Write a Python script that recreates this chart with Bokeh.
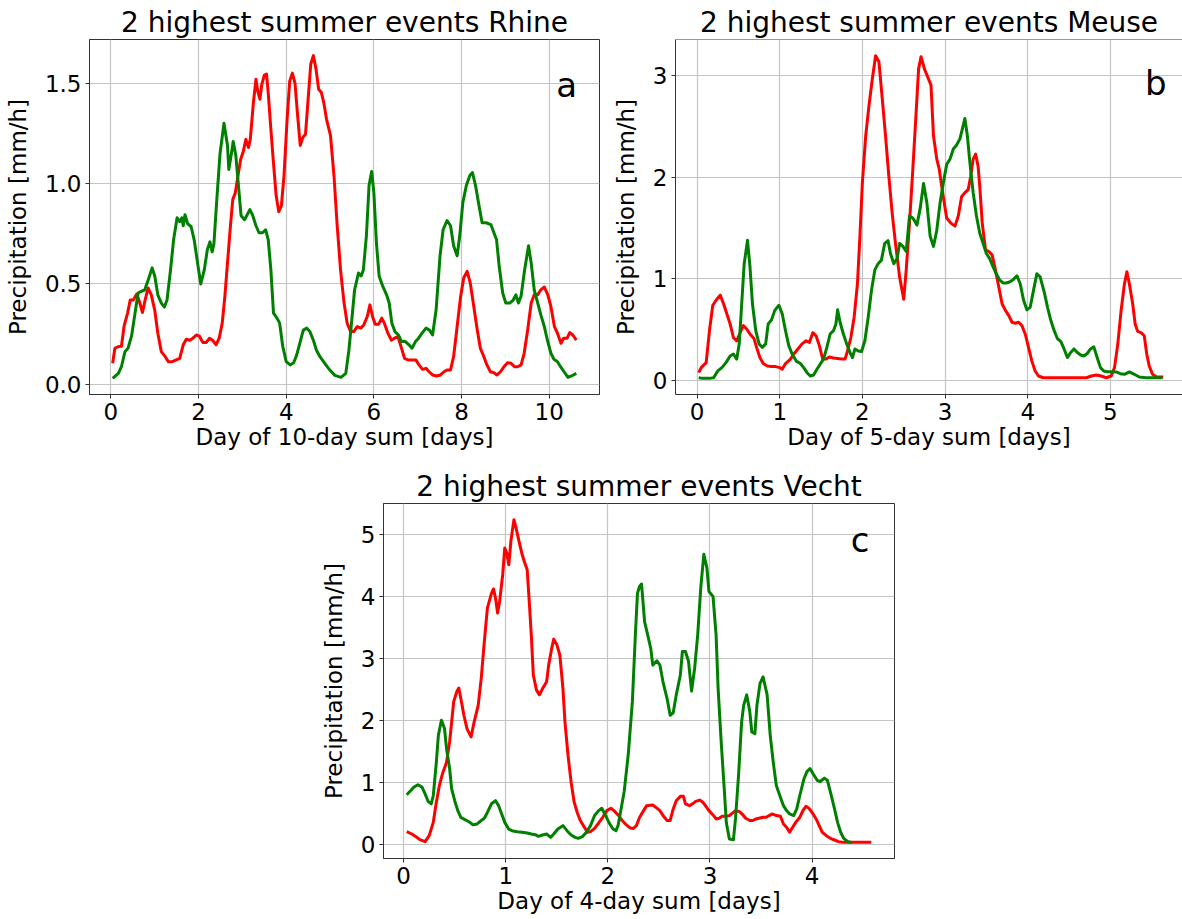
from bokeh.plotting import figure
from bokeh.layouts import column, row
from bokeh.models import Range1d, FixedTicker, PrintfTickFormatter, Label, Span
from bokeh.embed import file_html
from bokeh.resources import INLINE

# ---------------------------------------------------------------------------
# Hourly precipitation of the two highest summer events per basin
# (time in days since the start of the multi-day sum, precipitation in mm/h)
# ---------------------------------------------------------------------------

# Rhine, 10-day sum
rhine_green_t = [
    0.04, 0.17, 0.24, 0.32, 0.39, 0.47, 0.54, 0.62, 0.69, 0.77,
    0.85, 0.94, 1.00, 1.07, 1.15, 1.22, 1.28, 1.36, 1.43, 1.51,
    1.57, 1.62, 1.65, 1.69, 1.75, 1.83, 1.90, 1.98, 2.05, 2.13,
    2.20, 2.26, 2.31, 2.35, 2.41, 2.49, 2.58, 2.66, 2.69, 2.75,
    2.79, 2.85, 2.91, 2.97, 3.05, 3.11, 3.17, 3.23, 3.31, 3.38,
    3.46, 3.53, 3.59, 3.65, 3.71, 3.79, 3.85, 3.92, 4.00, 4.09,
    4.17, 4.24, 4.32, 4.39, 4.47, 4.54, 4.62, 4.69, 4.77, 4.88,
    5.00, 5.11, 5.25, 5.36, 5.43, 5.49, 5.56, 5.65, 5.71, 5.76,
    5.83, 5.89, 5.95, 6.00, 6.06, 6.12, 6.20, 6.29, 6.35, 6.41,
    6.48, 6.56, 6.63, 6.72, 6.80, 6.87, 6.95, 7.02, 7.10, 7.19,
    7.27, 7.34, 7.42, 7.51, 7.58, 7.67, 7.75, 7.82, 7.90, 7.96,
    8.03, 8.11, 8.19, 8.25, 8.32, 8.40, 8.47, 8.56, 8.67, 8.74,
    8.80, 8.86, 8.94, 9.01, 9.10, 9.18, 9.24, 9.30, 9.36, 9.44,
    9.53, 9.59, 9.66, 9.74, 9.81, 9.89, 9.96, 10.04, 10.11, 10.19,
    10.26, 10.34, 10.43, 10.51, 10.62,
]
rhine_green_p = [
    0.030, 0.055, 0.088, 0.163, 0.180, 0.240, 0.340, 0.455, 0.463, 0.470,
    0.520, 0.580, 0.540, 0.446, 0.405, 0.385, 0.420, 0.570, 0.720, 0.830,
    0.810, 0.830, 0.790, 0.845, 0.800, 0.785, 0.720, 0.600, 0.500, 0.570,
    0.670, 0.710, 0.660, 0.700, 0.900, 1.150, 1.300, 1.190, 1.070, 1.150,
    1.210, 1.140, 0.990, 0.840, 0.820, 0.845, 0.870, 0.845, 0.790, 0.755,
    0.755, 0.770, 0.720, 0.570, 0.355, 0.330, 0.305, 0.190, 0.113, 0.097,
    0.108, 0.147, 0.213, 0.270, 0.280, 0.263, 0.220, 0.170, 0.138, 0.105,
    0.070, 0.045, 0.035, 0.055, 0.170, 0.305, 0.470, 0.555, 0.540, 0.570,
    0.740, 0.990, 1.060, 0.955, 0.700, 0.540, 0.490, 0.446, 0.405, 0.305,
    0.263, 0.246, 0.213, 0.213, 0.197, 0.180, 0.213, 0.230, 0.255, 0.280,
    0.270, 0.246, 0.370, 0.640, 0.770, 0.816, 0.790, 0.690, 0.640, 0.740,
    0.905, 0.990, 1.040, 1.055, 0.990, 0.890, 0.805, 0.805, 0.796, 0.755,
    0.720, 0.588, 0.455, 0.405, 0.405, 0.420, 0.446, 0.405, 0.440, 0.570,
    0.690, 0.605, 0.470, 0.405, 0.346, 0.288, 0.220, 0.155, 0.125, 0.113,
    0.088, 0.063, 0.035, 0.042, 0.055,
]
rhine_red_t = [
    0.04, 0.09, 0.17, 0.24, 0.30, 0.38, 0.44, 0.51, 0.59, 0.66,
    0.72, 0.78, 0.85, 0.92, 1.00, 1.07, 1.15, 1.24, 1.31, 1.40,
    1.49, 1.57, 1.65, 1.72, 1.80, 1.87, 1.95, 2.02, 2.10, 2.17,
    2.25, 2.32, 2.40, 2.47, 2.54, 2.60, 2.66, 2.72, 2.78, 2.84,
    2.90, 2.96, 3.02, 3.08, 3.14, 3.18, 3.25, 3.31, 3.35, 3.40,
    3.44, 3.50, 3.55, 3.59, 3.65, 3.71, 3.77, 3.83, 3.89, 3.95,
    4.02, 4.08, 4.14, 4.20, 4.26, 4.32, 4.38, 4.44, 4.50, 4.56,
    4.62, 4.68, 4.74, 4.80, 4.86, 4.92, 5.01, 5.09, 5.16, 5.24,
    5.32, 5.39, 5.47, 5.54, 5.62, 5.70, 5.77, 5.85, 5.91, 5.97,
    6.03, 6.11, 6.18, 6.24, 6.32, 6.40, 6.47, 6.55, 6.62, 6.70,
    6.78, 6.87, 6.96, 7.03, 7.11, 7.19, 7.26, 7.34, 7.43, 7.52,
    7.60, 7.67, 7.75, 7.82, 7.90, 7.98, 8.05, 8.13, 8.20, 8.28,
    8.36, 8.43, 8.51, 8.58, 8.66, 8.74, 8.81, 8.89, 8.97, 9.05,
    9.13, 9.21, 9.28, 9.36, 9.43, 9.51, 9.59, 9.66, 9.74, 9.81,
    9.89, 9.97, 10.04, 10.12, 10.19, 10.27, 10.33, 10.41, 10.47, 10.54,
    10.62,
]
rhine_red_p = [
    0.105, 0.180, 0.188, 0.190, 0.290, 0.355, 0.420, 0.420, 0.450, 0.405,
    0.358, 0.420, 0.480, 0.446, 0.370, 0.255, 0.163, 0.138, 0.113, 0.113,
    0.122, 0.130, 0.197, 0.225, 0.220, 0.230, 0.246, 0.240, 0.208, 0.208,
    0.230, 0.220, 0.197, 0.230, 0.305, 0.438, 0.605, 0.770, 0.920, 0.955,
    1.040, 1.120, 1.160, 1.220, 1.180, 1.220, 1.400, 1.520, 1.460, 1.420,
    1.490, 1.540, 1.545, 1.450, 1.270, 1.100, 0.940, 0.860, 0.890, 1.040,
    1.320, 1.510, 1.550, 1.500, 1.340, 1.190, 1.230, 1.245, 1.420, 1.595,
    1.637, 1.570, 1.470, 1.455, 1.400, 1.320, 1.240, 1.040, 0.800, 0.570,
    0.405, 0.305, 0.263, 0.263, 0.288, 0.280, 0.296, 0.338, 0.396, 0.338,
    0.300, 0.300, 0.330, 0.305, 0.255, 0.220, 0.230, 0.238, 0.188, 0.130,
    0.122, 0.122, 0.122, 0.097, 0.075, 0.080, 0.063, 0.047, 0.042, 0.047,
    0.063, 0.072, 0.072, 0.138, 0.288, 0.438, 0.530, 0.563, 0.505, 0.388,
    0.271, 0.180, 0.138, 0.097, 0.063, 0.058, 0.047, 0.063, 0.088, 0.108,
    0.105, 0.088, 0.088, 0.097, 0.155, 0.271, 0.405, 0.446, 0.446, 0.471,
    0.485, 0.446, 0.388, 0.288, 0.255, 0.205, 0.230, 0.230, 0.258, 0.246,
    0.220,
]

# Meuse, 5-day sum
meuse_green_t = [
    0.02, 0.07, 0.15, 0.20, 0.25, 0.30, 0.35, 0.40, 0.44, 0.48,
    0.51, 0.54, 0.57, 0.61, 0.64, 0.67, 0.71, 0.75, 0.79, 0.83,
    0.86, 0.90, 0.94, 0.99, 1.03, 1.07, 1.11, 1.15, 1.20, 1.25,
    1.29, 1.33, 1.37, 1.41, 1.45, 1.49, 1.53, 1.57, 1.61, 1.65,
    1.68, 1.70, 1.73, 1.77, 1.81, 1.85, 1.88, 1.91, 1.95, 1.99,
    2.03, 2.07, 2.11, 2.15, 2.19, 2.23, 2.27, 2.31, 2.34, 2.38,
    2.42, 2.45, 2.49, 2.53, 2.57, 2.61, 2.66, 2.70, 2.74, 2.78,
    2.82, 2.86, 2.90, 2.94, 2.98, 3.02, 3.06, 3.10, 3.14, 3.18,
    3.21, 3.24, 3.27, 3.30, 3.34, 3.38, 3.42, 3.46, 3.50, 3.54,
    3.58, 3.62, 3.66, 3.70, 3.74, 3.78, 3.82, 3.87, 3.91, 3.95,
    3.99, 4.03, 4.07, 4.11, 4.15, 4.20, 4.24, 4.28, 4.32, 4.36,
    4.40, 4.44, 4.48, 4.52, 4.56, 4.60, 4.64, 4.68, 4.72, 4.76,
    4.80, 4.84, 4.88, 4.92, 4.96, 5.01, 5.07, 5.12, 5.17, 5.23,
    5.29, 5.35, 5.43, 5.51, 5.63,
]
meuse_green_p = [
    0.026, 0.020, 0.020, 0.026, 0.093, 0.126, 0.175, 0.240, 0.260, 0.210,
    0.360, 0.755, 1.150, 1.380, 1.120, 0.755, 0.490, 0.360, 0.325, 0.360,
    0.556, 0.596, 0.690, 0.740, 0.656, 0.490, 0.340, 0.260, 0.190, 0.166,
    0.126, 0.076, 0.043, 0.053, 0.110, 0.160, 0.210, 0.325, 0.457, 0.490,
    0.556, 0.695, 0.573, 0.457, 0.360, 0.275, 0.225, 0.310, 0.290, 0.285,
    0.390, 0.620, 0.887, 1.086, 1.150, 1.185, 1.350, 1.377, 1.250, 1.150,
    1.200, 1.350, 1.320, 1.270, 1.620, 1.600, 1.530, 1.700, 1.940, 1.750,
    1.420, 1.320, 1.480, 1.750, 1.950, 2.130, 2.180, 2.280, 2.320, 2.380,
    2.480, 2.580, 2.410, 2.150, 1.850, 1.620, 1.450, 1.350, 1.250, 1.200,
    1.120, 1.050, 0.990, 0.960, 0.960, 0.970, 0.990, 1.030, 0.950, 0.790,
    0.695, 0.720, 0.887, 1.050, 1.020, 0.870, 0.720, 0.590, 0.490, 0.410,
    0.384, 0.310, 0.225, 0.275, 0.310, 0.275, 0.250, 0.240, 0.265, 0.310,
    0.330, 0.225, 0.126, 0.093, 0.086, 0.086, 0.083, 0.066, 0.060, 0.083,
    0.060, 0.033, 0.026, 0.026, 0.026,
]
meuse_red_t = [
    0.02, 0.05, 0.11, 0.15, 0.19, 0.23, 0.28, 0.32, 0.36, 0.40,
    0.44, 0.48, 0.52, 0.56, 0.60, 0.64, 0.69, 0.72, 0.76, 0.80,
    0.85, 0.90, 0.95, 1.00, 1.03, 1.07, 1.13, 1.17, 1.22, 1.27,
    1.32, 1.36, 1.40, 1.44, 1.48, 1.52, 1.56, 1.60, 1.65, 1.70,
    1.75, 1.79, 1.82, 1.86, 1.90, 1.94, 1.97, 2.00, 2.04, 2.08,
    2.12, 2.16, 2.20, 2.24, 2.28, 2.32, 2.36, 2.40, 2.45, 2.48,
    2.50, 2.53, 2.57, 2.61, 2.65, 2.68, 2.71, 2.75, 2.79, 2.83,
    2.86, 2.90, 2.93, 2.96, 2.99, 3.02, 3.07, 3.12, 3.16, 3.20,
    3.24, 3.28, 3.31, 3.34, 3.37, 3.40, 3.42, 3.45, 3.49, 3.53,
    3.57, 3.61, 3.65, 3.69, 3.73, 3.77, 3.81, 3.85, 3.89, 3.93,
    3.97, 4.01, 4.05, 4.09, 4.13, 4.19, 4.40, 4.60, 4.71, 4.77,
    4.83, 4.89, 4.95, 5.01, 5.05, 5.09, 5.13, 5.17, 5.20, 5.23,
    5.27, 5.30, 5.33, 5.37, 5.41, 5.44, 5.47, 5.51, 5.56, 5.64,
]
meuse_red_p = [
    0.076, 0.126, 0.175, 0.490, 0.740, 0.790, 0.840, 0.755, 0.656, 0.556,
    0.420, 0.390, 0.470, 0.540, 0.506, 0.457, 0.410, 0.325, 0.225, 0.166,
    0.142, 0.136, 0.136, 0.126, 0.110, 0.166, 0.210, 0.260, 0.310, 0.360,
    0.390, 0.375, 0.470, 0.440, 0.340, 0.210, 0.210, 0.230, 0.220, 0.215,
    0.210, 0.210, 0.290, 0.420, 0.620, 0.950, 1.420, 1.950, 2.410, 2.710,
    2.970, 3.200, 3.140, 2.780, 2.410, 2.010, 1.650, 1.350, 1.020, 0.887,
    0.800, 1.086, 1.550, 2.080, 2.640, 3.070, 3.190, 3.070, 2.990, 2.910,
    2.410, 2.180, 2.080, 1.910, 1.750, 1.600, 1.550, 1.520, 1.620, 1.810,
    1.850, 1.880, 2.010, 2.180, 2.230, 2.110, 1.910, 1.550, 1.285, 1.270,
    1.235, 1.086, 0.920, 0.755, 0.690, 0.640, 0.573, 0.563, 0.573, 0.540,
    0.457, 0.325, 0.190, 0.093, 0.043, 0.026, 0.026, 0.026, 0.026, 0.043,
    0.053, 0.043, 0.026, 0.043, 0.126, 0.360, 0.690, 0.950, 1.070, 0.950,
    0.755, 0.556, 0.483, 0.470, 0.440, 0.260, 0.142, 0.060, 0.033, 0.033,
]

# Vecht, 4-day sum
vecht_green_t = [
    0.03, 0.07, 0.10, 0.14, 0.18, 0.21, 0.24, 0.27, 0.29, 0.32,
    0.34, 0.37, 0.40, 0.42, 0.45, 0.47, 0.50, 0.53, 0.56, 0.60,
    0.64, 0.68, 0.72, 0.76, 0.79, 0.82, 0.86, 0.90, 0.93, 0.96,
    0.99, 1.03, 1.06, 1.11, 1.16, 1.21, 1.25, 1.29, 1.32, 1.36,
    1.40, 1.44, 1.47, 1.51, 1.56, 1.60, 1.64, 1.68, 1.71, 1.75,
    1.79, 1.83, 1.87, 1.91, 1.94, 1.97, 2.01, 2.05, 2.08, 2.10,
    2.13, 2.16, 2.20, 2.24, 2.27, 2.29, 2.31, 2.33, 2.36, 2.39,
    2.42, 2.44, 2.48, 2.51, 2.54, 2.58, 2.61, 2.64, 2.67, 2.71,
    2.73, 2.76, 2.79, 2.82, 2.85, 2.88, 2.91, 2.94, 2.97, 2.99,
    3.03, 3.06, 3.08, 3.11, 3.14, 3.16, 3.19, 3.23, 3.25, 3.28,
    3.31, 3.33, 3.36, 3.39, 3.41, 3.44, 3.46, 3.49, 3.52, 3.56,
    3.59, 3.62, 3.65, 3.69, 3.72, 3.75, 3.78, 3.82, 3.85, 3.88,
    3.92, 3.95, 3.98, 4.01, 4.05, 4.08, 4.12, 4.15, 4.18, 4.22,
    4.25, 4.28, 4.31, 4.35, 4.39,
]
vecht_green_p = [
    0.795, 0.865, 0.920, 0.957, 0.920, 0.810, 0.686, 0.650, 0.780, 1.320,
    1.760, 2.000, 1.865, 1.540, 1.220, 0.890, 0.700, 0.540, 0.430, 0.395,
    0.360, 0.310, 0.324, 0.380, 0.416, 0.510, 0.650, 0.700, 0.620, 0.486,
    0.350, 0.240, 0.216, 0.200, 0.190, 0.178, 0.162, 0.151, 0.124, 0.146,
    0.162, 0.108, 0.162, 0.243, 0.297, 0.216, 0.146, 0.108, 0.092, 0.119,
    0.190, 0.297, 0.460, 0.540, 0.578, 0.486, 0.350, 0.243, 0.216, 0.300,
    0.570, 0.850, 1.450, 2.300, 3.400, 4.050, 4.160, 4.200, 3.590, 3.380,
    3.160, 2.890, 2.960, 2.890, 2.620, 2.350, 2.080, 2.120, 2.410, 2.730,
    3.110, 3.110, 2.950, 2.470, 2.840, 3.380, 4.140, 4.680, 4.460, 4.080,
    4.000, 3.380, 2.510, 1.650, 0.890, 0.350, 0.080, 0.070, 0.405, 1.110,
    1.970, 2.240, 2.410, 2.140, 1.810, 1.780, 2.240, 2.590, 2.700, 2.410,
    1.760, 1.320, 0.946, 0.757, 0.620, 0.540, 0.486, 0.460, 0.567, 0.784,
    1.050, 1.170, 1.220, 1.135, 1.030, 1.010, 1.065, 1.030, 0.838, 0.567,
    0.350, 0.190, 0.092, 0.038, 0.027,
]
vecht_red_t = [
    0.03, 0.08, 0.12, 0.16, 0.21, 0.25, 0.29, 0.32, 0.35, 0.38,
    0.42, 0.45, 0.47, 0.49, 0.52, 0.54, 0.56, 0.59, 0.62, 0.66,
    0.69, 0.73, 0.76, 0.79, 0.82, 0.86, 0.88, 0.90, 0.92, 0.94,
    0.97, 0.99, 1.01, 1.03, 1.05, 1.08, 1.10, 1.13, 1.16, 1.18,
    1.21, 1.23, 1.25, 1.27, 1.30, 1.33, 1.36, 1.40, 1.42, 1.45,
    1.47, 1.50, 1.53, 1.56, 1.58, 1.61, 1.64, 1.67, 1.70, 1.73,
    1.77, 1.80, 1.83, 1.87, 1.91, 1.95, 1.99, 2.03, 2.06, 2.10,
    2.14, 2.18, 2.22, 2.25, 2.28, 2.31, 2.35, 2.38, 2.44, 2.48,
    2.51, 2.54, 2.58, 2.61, 2.64, 2.67, 2.71, 2.74, 2.76, 2.80,
    2.83, 2.86, 2.90, 2.93, 2.96, 2.99, 3.03, 3.06, 3.09, 3.12,
    3.16, 3.19, 3.22, 3.25, 3.29, 3.32, 3.35, 3.39, 3.42, 3.45,
    3.48, 3.52, 3.55, 3.58, 3.61, 3.65, 3.69, 3.72, 3.75, 3.78,
    3.81, 3.84, 3.88, 3.91, 3.94, 3.97, 4.01, 4.04, 4.07, 4.10,
    4.14, 4.18, 4.22, 4.26, 4.31, 4.44, 4.58,
]
vecht_red_p = [
    0.200, 0.162, 0.119, 0.070, 0.038, 0.135, 0.350, 0.676, 0.946, 1.135,
    1.320, 1.650, 1.970, 2.300, 2.460, 2.520, 2.350, 2.080, 1.865, 1.730,
    1.970, 2.240, 2.680, 3.270, 3.810, 4.050, 4.120, 3.970, 3.730, 3.920,
    4.350, 4.780, 4.700, 4.510, 4.890, 5.240, 5.110, 4.890, 4.680, 4.570,
    4.430, 3.920, 3.380, 2.730, 2.490, 2.410, 2.510, 2.620, 2.890, 3.160,
    3.310, 3.220, 3.050, 2.510, 1.970, 1.430, 1.000, 0.676, 0.510, 0.380,
    0.270, 0.190, 0.200, 0.254, 0.340, 0.432, 0.540, 0.578, 0.540, 0.470,
    0.380, 0.310, 0.260, 0.250, 0.300, 0.430, 0.540, 0.620, 0.630, 0.580,
    0.540, 0.460, 0.380, 0.380, 0.567, 0.700, 0.770, 0.770, 0.650, 0.620,
    0.650, 0.690, 0.710, 0.676, 0.610, 0.540, 0.470, 0.405, 0.416, 0.450,
    0.450, 0.460, 0.500, 0.540, 0.524, 0.476, 0.416, 0.380, 0.380, 0.405,
    0.416, 0.432, 0.432, 0.460, 0.486, 0.460, 0.450, 0.324, 0.270, 0.190,
    0.270, 0.350, 0.432, 0.540, 0.610, 0.578, 0.486, 0.405, 0.297, 0.190,
    0.135, 0.092, 0.065, 0.038, 0.027, 0.027, 0.027,
]

# Tick positions
rhine_xticks = [0, 2, 4, 6, 8, 10]
rhine_yticks = [0.0, 0.5, 1.0, 1.5]
meuse_xticks = [0, 1, 2, 3, 4, 5]
meuse_yticks = [0, 1, 2, 3]
vecht_xticks = [0, 1, 2, 3, 4]
vecht_yticks = [0, 1, 2, 3, 4, 5]

FONT = "DejaVu Sans"
RED = "#ff0000"
GREEN = "#008000"
FRAME = "#333333"
GRID = "#c4c4c4"
FRAME_W = 511
FRAME_H = 355


def padded(lo, hi, frac=0.05):
    span = hi - lo
    return lo - frac * span, hi + frac * span


def make_panel(title, xlabel, t_red, p_red, t_green, p_green, xticks, yticks,
               yfmt, letter, letter_xy, border_left, border_top, border_bottom,
               border_right, frame_w=FRAME_W, open_right=False):
    x0, x1 = padded(min(t_red + t_green), max(t_red + t_green))
    y0, y1 = padded(min(p_red + p_green), max(p_red + p_green))
    if open_right:
        # the page edge cuts the panel: keep the same scale, show less range
        x1 = x0 + (x1 - x0) * frame_w / FRAME_W

    p = figure(frame_width=frame_w, frame_height=FRAME_H,
               x_range=Range1d(x0, x1), y_range=Range1d(y0, y1),
               output_backend="svg", toolbar_location=None,
               min_border_left=border_left, min_border_right=border_right,
               min_border_top=border_top, min_border_bottom=border_bottom,
               title=title)
    p.background_fill_color = "white"
    p.border_fill_color = "white"

    p.title.align = "center"
    p.title.text_font = FONT
    p.title.text_font_size = "28px"
    p.title.text_font_style = "normal"
    p.title.text_color = "black"
    p.title.standoff = 1

    if open_right:
        p.outline_line_color = None
        p.add_layout(Span(location=y1, dimension="width",
                          line_color=FRAME, line_width=1))
    else:
        p.outline_line_color = FRAME
        p.outline_line_width = 1

    p.xaxis.ticker = FixedTicker(ticks=xticks)
    p.yaxis.ticker = FixedTicker(ticks=yticks)
    p.xaxis.formatter = PrintfTickFormatter(format="%d")
    p.yaxis.formatter = PrintfTickFormatter(format=yfmt)
    p.xaxis.axis_label = xlabel
    p.yaxis.axis_label = "Precipitation [mm/h]"
    p.xaxis.axis_label_standoff = 1
    p.yaxis.axis_label_standoff = 11
    for ax in (p.xaxis[0], p.yaxis[0]):
        ax.axis_line_color = FRAME
        ax.major_tick_line_color = FRAME
        ax.major_tick_out = 4
        ax.major_tick_in = 0
        ax.minor_tick_line_color = None
        ax.major_label_standoff = 4
        ax.major_label_text_font = FONT
        ax.major_label_text_font_size = "23px"
        ax.major_label_text_color = "black"
        ax.axis_label_text_font = FONT
        ax.axis_label_text_font_size = "23px"
        ax.axis_label_text_font_style = "normal"
        ax.axis_label_text_color = "black"

    p.grid.grid_line_color = GRID
    p.grid.grid_line_width = 1.2

    p.line(t_red, p_red, line_color=RED, line_width=3, line_join="round")
    p.line(t_green, p_green, line_color=GREEN, line_width=3, line_join="round")

    p.add_layout(Label(x=letter_xy[0], y=letter_xy[1], text=letter,
                       text_font=FONT, text_font_size="34px",
                       text_align="center", text_baseline="alphabetic",
                       text_color="black"))
    return p


fig_a = make_panel("2 highest summer events Rhine", "Day of 10-day sum [days]",
                   rhine_red_t, rhine_red_p, rhine_green_t, rhine_green_p,
                   rhine_xticks, rhine_yticks, "%.1f", "a", (10.4, 1.49),
                   border_left=89, border_top=39, border_bottom=62,
                   border_right=10, frame_w=510)

fig_b = make_panel("2 highest summer events Meuse", "Day of 5-day sum [days]",
                   meuse_red_t, meuse_red_p, meuse_green_t, meuse_green_p,
                   meuse_xticks, meuse_yticks, "%d", "b", (5.55, 2.93),
                   border_left=65, border_top=39, border_bottom=62,
                   border_right=0, frame_w=507, open_right=True)

fig_c = make_panel("2 highest summer events Vecht", "Day of 4-day sum [days]",
                   vecht_red_t, vecht_red_p, vecht_green_t, vecht_green_p,
                   vecht_xticks, vecht_yticks, "%d", "c", (4.47, 4.91),
                   border_left=383, border_top=47, border_bottom=61,
                   border_right=10, frame_w=511)

layout = column(row(fig_a, fig_b), fig_c)

with open("out.html", "w") as f:
    f.write(file_html(layout, INLINE))
